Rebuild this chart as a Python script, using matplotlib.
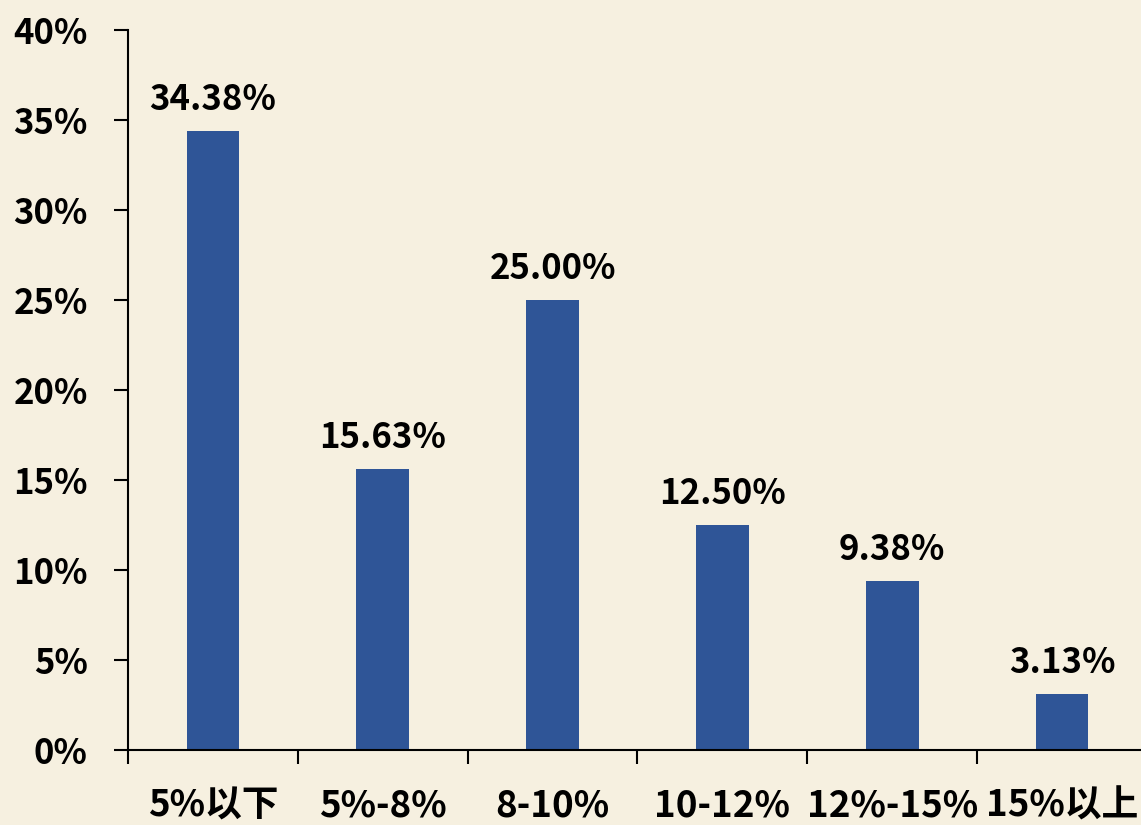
import matplotlib.pyplot as plt
from matplotlib.ticker import FixedLocator, MultipleLocator, PercentFormatter

categories = ["5%以下", "5%-8%", "8-10%", "10-12%", "12%-15%", "15%以上"]
shares = [34.38, 15.63, 25.00, 12.50, 9.38, 3.13]

plt.rcParams["font.family"] = ["Noto Sans CJK SC", "DejaVu Sans"]

bg = "#f6f0e0"
fig = plt.figure(figsize=(11.41, 8.25), dpi=100, facecolor=bg)
ax = fig.add_axes([128 / 1141, 75 / 825, 1019 / 1141, 720 / 825])
ax.set_facecolor(bg)

x = list(range(len(categories)))
ax.bar(x, shares, width=0.31, color="#2f5597")
for xi, v in zip(x, shares):
    ax.annotate(f"{v:.2f}%", (xi, v), xytext=(0, 10), textcoords="offset points",
                ha="center", va="bottom", fontsize=25, fontweight="bold")

ax.set_xlim(-0.5, len(categories) - 0.5)
ax.set_ylim(0, 40)
ax.yaxis.set_major_locator(MultipleLocator(5))
ax.yaxis.set_major_formatter(PercentFormatter(decimals=0))
ax.set_xticks(x, labels=categories)
ax.xaxis.set_minor_locator(FixedLocator([i - 0.5 for i in range(len(categories) + 1)]))
ax.tick_params(axis="x", which="major", length=0, pad=27)
ax.tick_params(axis="x", which="minor", length=10, width=1.5, direction="out")
ax.tick_params(axis="y", length=10, width=1.5, direction="out", pad=19)
for lab in ax.get_yticklabels():
    lab.set_fontsize(25)
    lab.set_fontweight("bold")
for lab in ax.get_xticklabels():
    lab.set_fontsize(26.5)
    lab.set_fontweight("bold")

for side in ("top", "right"):
    ax.spines[side].set_visible(False)
for side in ("left", "bottom"):
    ax.spines[side].set_linewidth(1.5)

fig.savefig("out.png", dpi=100, facecolor=bg)
